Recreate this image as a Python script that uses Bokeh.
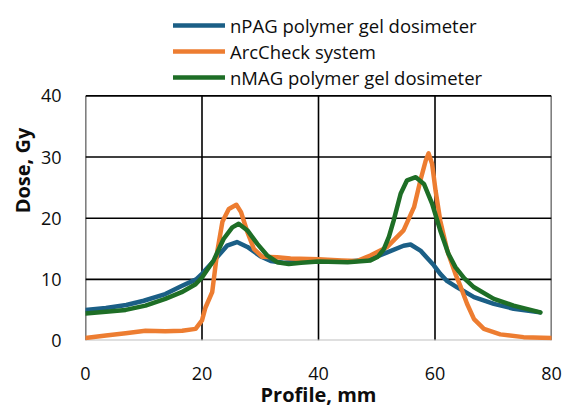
from bokeh.plotting import figure
from bokeh.models import Range1d, FixedTicker, Legend, LegendItem
from bokeh.embed import file_html
from bokeh.resources import INLINE

# ---- data ----
npag_x = [0, 3.5, 7, 10, 13.7, 16.5, 19, 20, 22, 24.3, 26, 27.8, 30, 31.8, 34, 37, 40, 45,
          48.9, 51.8, 54.6, 55.8, 57.5, 59.8, 60.9, 62.1, 63.8, 66.7, 70.1, 73.5, 78]
npag_y = [5.0, 5.3, 5.8, 6.5, 7.6, 8.9, 10.0, 10.9, 13.0, 15.5, 16.1, 15.3, 13.8, 13.0, 12.7,
          12.9, 13.0, 12.9, 13.3, 14.4, 15.5, 15.7, 14.7, 12.3, 10.9, 9.7, 8.7, 7.1, 6.0, 5.2,
          4.6]

arc_x = [0, 3.5, 6.9, 10.3, 13.7, 16.6, 18.9, 20, 20.6, 21.75, 22.6, 23.5, 24.6, 25.9, 26.7,
         27.8, 28.9, 30.3, 32.9, 35.2, 40, 44, 46.6, 48.9, 51.8, 54.6, 56.4, 57.5, 58.4, 58.9,
         59.5, 60.1, 60.9, 62.1, 63.5, 64.4, 65.5, 66.7, 68.4, 71.2, 75.2, 80]
arc_y = [0.4, 0.8, 1.2, 1.6, 1.5, 1.6, 1.9, 3.3, 5.4, 7.9, 14.4, 19.4, 21.5, 22.2, 21.0,
         17.7, 15.0, 13.7, 13.6, 13.4, 13.3, 13.1, 13.0, 13.9, 15.3, 18.0, 21.8, 26.2, 29.4,
         30.6, 28.9, 24.5, 19.6, 14.7, 10.9, 8.8, 6.0, 3.5, 1.9, 1.0, 0.55, 0.4]

nmag_x = [0, 3.5, 6.9, 10.3, 13.7, 16.5, 18.9, 20, 22, 23.7, 25.2, 26.3, 27.8, 29.5, 31.2,
          32.9, 34.9, 37, 40, 45, 48.9, 50.2, 51.2, 52.1, 52.9, 54.1, 55.2, 56.7, 58.1, 59.5,
          60.9, 62.3, 63.5, 65, 66.7, 70.1, 73.5, 78.1]
nmag_y = [4.4, 4.7, 5.0, 5.7, 6.8, 7.9, 9.2, 10.3, 13.1, 16.6, 18.5, 19.1, 18.0, 15.8, 13.9,
          12.8, 12.5, 12.7, 12.9, 12.8, 13.1, 13.7, 14.9, 17.0, 19.6, 24.0, 26.2, 26.7, 25.6,
          22.4, 18.0, 14.2, 12.0, 10.2, 8.7, 6.8, 5.7, 4.6]

x_ticks = [0, 20, 40, 60, 80]
y_ticks = [0, 10, 20, 30, 40]
labels = ["nPAG polymer gel dosimeter", "ArcCheck system", "nMAG polymer gel dosimeter"]

FONT = "Open Sans"
TXT = "#0d0d0d"
Y_TOP = 55.6   # blank headroom above the 0-40 plot box holds the legend

p = figure(width=572, height=410, output_backend="svg", toolbar_location=None,
           x_range=Range1d(0, 80), y_range=Range1d(0, Y_TOP),
           min_border_left=85, min_border_right=21, min_border_top=0, min_border_bottom=70)
p.title.visible = False
p.background_fill_color = "white"
p.border_fill_color = "white"
p.outline_line_color = None
p.xgrid.visible = False
p.ygrid.visible = False

# plot box grid drawn from the tick arrays
p.segment(x0=x_ticks, y0=[y_ticks[0]] * len(x_ticks), x1=x_ticks, y1=[y_ticks[-1]] * len(x_ticks),
          line_color="black", line_width=1.6)
p.segment(x0=[x_ticks[0]] * 4, y0=y_ticks[1:], x1=[x_ticks[-1]] * 4, y1=y_ticks[1:],
          line_color="black", line_width=1.6)
p.segment(x0=[x_ticks[0]], y0=[y_ticks[0]], x1=[x_ticks[-1]], y1=[y_ticks[0]],
          line_color="#bfbfbf", line_width=2)

# axes
p.xaxis.ticker = FixedTicker(ticks=x_ticks)
p.yaxis.ticker = FixedTicker(ticks=y_ticks)
for ax in (p.xaxis, p.yaxis):
    ax.axis_line_color = None
    ax.major_tick_line_color = None
    ax.minor_tick_line_color = None
    ax.major_label_text_font = FONT
    ax.major_label_text_font_size = "18px"
    ax.major_label_text_color = TXT
    ax.axis_label_text_font = FONT
    ax.axis_label_text_font_size = "20px"
    ax.axis_label_text_font_style = "bold"
    ax.axis_label_text_color = TXT
p.xaxis.axis_label = "Profile, mm"
p.yaxis.axis_label = "Dose, Gy"
p.xaxis.major_label_standoff = 20
p.yaxis.major_label_standoff = 18
p.xaxis.axis_label_standoff = -2
p.yaxis.axis_label_standoff = 2

r1 = p.line(npag_x, npag_y, line_color="#1b5f86", line_width=4.5, line_join="round", line_cap="round")
r2 = p.line(arc_x, arc_y, line_color="#ed7d31", line_width=4.5, line_join="round", line_cap="round")
r3 = p.line(nmag_x, nmag_y, line_color="#1e6e26", line_width=4.5, line_join="round", line_cap="round")

legend = Legend(items=[LegendItem(label=labels[0], renderers=[r1]),
                       LegendItem(label=labels[1], renderers=[r2]),
                       LegendItem(label=labels[2], renderers=[r3])],
                location=(88, 250), padding=0, margin=0, spacing=0,
                glyph_width=52, glyph_height=26, label_height=26, label_standoff=5,
                label_text_font=FONT, label_text_font_size="18.5px", label_text_color=TXT,
                border_line_color=None, background_fill_alpha=0)
p.add_layout(legend, "center")

open("out.html", "w").write(file_html(p, INLINE))
